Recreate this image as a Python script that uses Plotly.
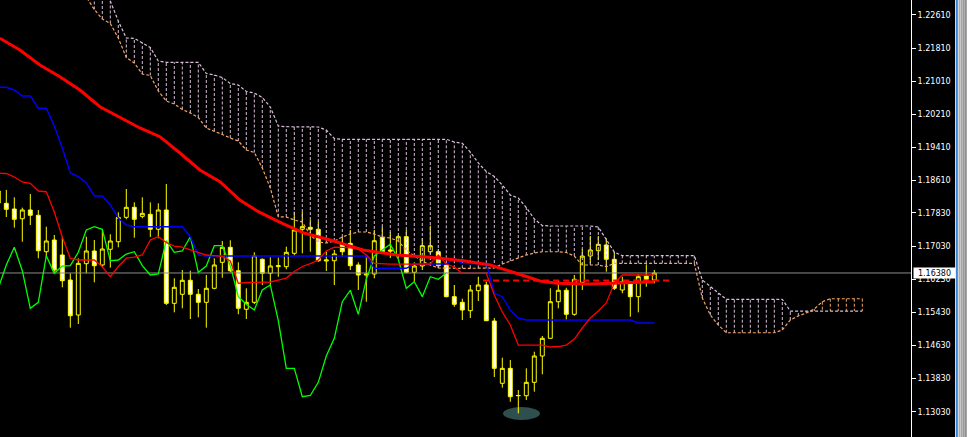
import plotly.graph_objects as go

# ---------------- axis ticks ----------------
tick_vals = [1.22610, 1.21810, 1.21010, 1.20210, 1.19410, 1.18610, 1.17830,
             1.17030, 1.16230, 1.15430, 1.14630, 1.13830, 1.13030]
tick_text = ["1.22610", "1.21810", "1.21010", "1.20210", "1.19410", "1.18610", "1.17830",
             "1.17030", "1.16230", "1.15430", "1.14630", "1.13830", "1.13030"]
y_range = [1.12419, 1.22972]
x_range = [-0.7875, 113.0875]

# ---------------- candles ----------------
bar_index = list(range(-1, 82))
open_ = [1.18070, 1.18062, 1.17925, 1.17690, 1.17901, 1.17773, 1.16894, 1.17176, 1.16814, 1.16210,
         1.15365, 1.16604, 1.16911, 1.16573, 1.16952, 1.17135, 1.17724, 1.17966, 1.17748, 1.17797,
         1.17435, 1.17901, 1.15647, 1.15865, 1.16203, 1.15865, 1.15671, 1.16010, 1.16637, 1.17000,
         1.16435, 1.15503, 1.15671, 1.16710, 1.16372, 1.16532, 1.16532, 1.16855, 1.17435, 1.17483,
         1.17435, 1.16669, 1.16676, 1.17096, 1.17096, 1.16573, 1.16331, 1.16355, 1.17241, 1.16935,
         1.16814, 1.17256, 1.16396, 1.16549, 1.16894, 1.16894, 1.16573, 1.15808, 1.15671, 1.15469,
         1.15952, 1.16090, 1.15220, 1.13716, 1.14077, 1.13416, 1.13416, 1.13739, 1.14375, 1.14802,
         1.15686, 1.15962, 1.15382, 1.16154, 1.16790, 1.16918, 1.17056, 1.16710, 1.15969, 1.16169,
         1.15808, 1.16306, 1.16210]
high = [1.18432, 1.18384, 1.18207, 1.17957, 1.18287, 1.17901, 1.17498, 1.17297, 1.17256, 1.16372,
        1.16734, 1.17256, 1.17176, 1.17418, 1.17314, 1.17845, 1.18408, 1.18086, 1.18207, 1.18086,
        1.18062, 1.18528, 1.16251, 1.16452, 1.16435, 1.15993, 1.16331, 1.16734, 1.17152, 1.17169,
        1.16637, 1.16010, 1.16879, 1.16734, 1.16758, 1.16749, 1.17015, 1.17860, 1.17860, 1.17659,
        1.17618, 1.16900, 1.16935, 1.17256, 1.17418, 1.16637, 1.16773, 1.17418, 1.17498, 1.17369,
        1.17297, 1.17418, 1.16637, 1.17217, 1.17522, 1.16959, 1.16573, 1.16090, 1.15760, 1.16090,
        1.16290, 1.16169, 1.15292, 1.14334, 1.14278, 1.13554, 1.14078, 1.14479, 1.14858, 1.16010,
        1.16210, 1.16024, 1.16331, 1.16959, 1.17273, 1.17273, 1.17217, 1.16894, 1.16290, 1.16169,
        1.16348, 1.16589, 1.16452]
low = [1.17997, 1.17732, 1.17474, 1.17135, 1.17538, 1.16734, 1.16773, 1.16411, 1.16034, 1.15059,
       1.15147, 1.16372, 1.16154, 1.16517, 1.16508, 1.17000, 1.17676, 1.17232, 1.17700, 1.17249,
       1.17217, 1.15606, 1.15430, 1.15527, 1.15268, 1.15309, 1.15059, 1.15986, 1.16266, 1.16396,
       1.15382, 1.15268, 1.15630, 1.16090, 1.16090, 1.16290, 1.16469, 1.16797, 1.16855, 1.16894,
       1.16652, 1.16428, 1.16090, 1.16773, 1.16452, 1.15969, 1.15686, 1.16251, 1.16855, 1.16742,
       1.16734, 1.16372, 1.16169, 1.16452, 1.16838, 1.16500, 1.15792, 1.15565, 1.15244, 1.15292,
       1.15703, 1.15227, 1.13868, 1.13610, 1.13271, 1.12991, 1.13312, 1.13513, 1.13933, 1.14802,
       1.15527, 1.15237, 1.15348, 1.15969, 1.16613, 1.16693, 1.16411, 1.15969, 1.15889, 1.15324,
       1.15430, 1.16048, 1.16130]
close = [1.18360, 1.17917, 1.17676, 1.17901, 1.17773, 1.16918, 1.17152, 1.16452, 1.16193, 1.15348,
         1.16613, 1.16911, 1.16556, 1.16959, 1.17152, 1.17724, 1.17966, 1.17676, 1.17820, 1.17435,
         1.17901, 1.15647, 1.16034, 1.16203, 1.15865, 1.15671, 1.16010, 1.16573, 1.17000, 1.16435,
         1.15527, 1.15671, 1.16797, 1.16372, 1.16549, 1.16556, 1.16879, 1.17418, 1.17498, 1.17435,
         1.16676, 1.16693, 1.16838, 1.16894, 1.16556, 1.16331, 1.16355, 1.17159, 1.16879, 1.16911,
         1.17256, 1.16396, 1.16549, 1.17039, 1.17039, 1.16556, 1.15808, 1.15623, 1.15486, 1.15969,
         1.16090, 1.15227, 1.14077, 1.14077, 1.13392, 1.13421, 1.13739, 1.14375, 1.14802, 1.15686,
         1.15962, 1.15382, 1.16227, 1.16790, 1.16935, 1.17072, 1.16710, 1.16010, 1.16169, 1.15808,
         1.16290, 1.16227, 1.16380]

# ---------------- moving average (thick red) ----------------
ma_index = [-0.8, 1.7, 4.2, 6.7, 9.2, 11.7, 16.7, 19.2, 21.7, 24.2, 26.7, 29.2, 31.5, 34.5,
            37.3, 40.5, 44.6, 48.8, 53.0, 57.1, 60.5, 62.6, 65.1, 66.7, 68.8, 73.0, 77.1, 81.0]
ma_value = [1.22047, 1.21765, 1.21402, 1.21120, 1.20799, 1.20395, 1.19881, 1.19671, 1.19277,
            1.18867, 1.18584, 1.18142, 1.17860, 1.17579, 1.17338, 1.17176, 1.16935, 1.16814,
            1.16758, 1.16676, 1.16573, 1.16452, 1.16290, 1.16186, 1.16130, 1.16113, 1.16145, 1.16169]

# ---------------- Ichimoku ----------------
tenkan = [1.18787, 1.18782, 1.18697, 1.18577, 1.18545, 1.18359, 1.18342, 1.17852, 1.17248, 1.16734,
          1.16693, 1.16693, 1.16693, 1.16531, 1.16290, 1.16536, 1.16736, 1.16765, 1.16814, 1.17176,
          1.17256, 1.17116, 1.17031, 1.17002, 1.16935, 1.16862, 1.16814, 1.16797, 1.16782, 1.16669,
          1.16130, 1.16150, 1.16150, 1.16150, 1.16162, 1.16210, 1.16258, 1.16415, 1.16536, 1.16608,
          1.16693, 1.16910, 1.17002, 1.16997, 1.16988, 1.16959, 1.16814, 1.16613, 1.16596, 1.16596,
          1.16596, 1.16596, 1.16596, 1.16596, 1.16596, 1.16814, 1.16596, 1.16524, 1.16372, 1.16372,
          1.16372, 1.16372, 1.15848, 1.15437, 1.15123, 1.14640, 1.14640, 1.14640, 1.14640, 1.14592,
          1.14604, 1.14640, 1.14785, 1.15051, 1.15292, 1.15461, 1.15655, 1.16138, 1.16331, 1.16331,
          1.16331, 1.16331, 1.16331]
kijun = [1.20864, 1.20864, 1.20799, 1.20654, 1.20654, 1.20357, 1.20357, 1.19929, 1.19398, 1.18794,
         1.18705, 1.18553, 1.18239, 1.18239, 1.18022, 1.17707, 1.17538, 1.17497, 1.17497, 1.17497,
         1.17497, 1.17497, 1.17497, 1.17497, 1.17256, 1.16814, 1.16790, 1.16790, 1.16790, 1.16790,
         1.16790, 1.16790, 1.16790, 1.16790, 1.16790, 1.16790, 1.16790, 1.16790, 1.16790, 1.16790,
         1.16790, 1.16790, 1.16790, 1.16790, 1.16790, 1.16790, 1.16790, 1.16493, 1.16493, 1.16493,
         1.16493, 1.16493, 1.16596, 1.16596, 1.16596, 1.16596, 1.16596, 1.16717, 1.16608, 1.16608,
         1.16608, 1.16608, 1.15896, 1.15807, 1.15486, 1.15292, 1.15244, 1.15244, 1.15244, 1.15244,
         1.15244, 1.15244, 1.15244, 1.15244, 1.15244, 1.15244, 1.15244, 1.15244, 1.15244, 1.15244,
         1.15172, 1.15172, 1.15172]
chikou_shift = 26

cloud_index = list(range(9, 108))
span_a = [1.23310, 1.23045, 1.22743, 1.22513, 1.22405, 1.22054, 1.21583, 1.21451, 1.21185, 1.21149,
          1.20774, 1.20533, 1.20460, 1.20328, 1.20243, 1.20134, 1.19881, 1.19808, 1.19724, 1.19639,
          1.19567, 1.19350, 1.19289, 1.18915, 1.18432, 1.17739, 1.17731, 1.17659, 1.17611, 1.17297,
          1.17128, 1.17104, 1.17152, 1.17248, 1.17321, 1.17369, 1.17369, 1.17321, 1.17248, 1.17224,
          1.17152, 1.16935, 1.16790, 1.16669, 1.16572, 1.16500, 1.16493, 1.16493, 1.16493, 1.16493,
          1.16493, 1.16493, 1.16500, 1.16596, 1.16669, 1.16741, 1.16814, 1.16862, 1.16893, 1.16893,
          1.16893, 1.16874, 1.16790, 1.16572, 1.16572, 1.16572, 1.16531, 1.16613, 1.16613, 1.16613,
          1.16613, 1.16613, 1.16613, 1.16613, 1.16613, 1.16613, 1.16613, 1.16613, 1.15775, 1.15365,
          1.15123, 1.14937, 1.14937, 1.14937, 1.14937, 1.14937, 1.14937, 1.14937, 1.15003, 1.15244,
          1.15341, 1.15413, 1.15510, 1.15686, 1.15758, 1.15758, 1.15758, 1.15758, 1.15758]
span_b = [1.24180, 1.23890, 1.23576, 1.23262, 1.22948, 1.22465, 1.22054, 1.22047, 1.21946, 1.21825,
          1.21499, 1.21468, 1.21468, 1.21468, 1.21468, 1.21468, 1.21197, 1.21161, 1.21100, 1.20956,
          1.20919, 1.20762, 1.20726, 1.20617, 1.20388, 1.19929, 1.19912, 1.19912, 1.19905, 1.19905,
          1.19905, 1.19832, 1.19627, 1.19608, 1.19608, 1.19608, 1.19608, 1.19608, 1.19608, 1.19608,
          1.19608, 1.19608, 1.19608, 1.19608, 1.19608, 1.19608, 1.19608, 1.19543, 1.19511, 1.19301,
          1.19036, 1.18830, 1.18710, 1.18504, 1.18263, 1.18190, 1.17961, 1.17683, 1.17526, 1.17514,
          1.17514, 1.17514, 1.17514, 1.17514, 1.17514, 1.17490, 1.17176, 1.16886, 1.16797, 1.16797,
          1.16797, 1.16797, 1.16797, 1.16797, 1.16797, 1.16797, 1.16797, 1.16797, 1.16210, 1.16048,
          1.15896, 1.15744, 1.15744, 1.15744, 1.15744, 1.15744, 1.15744, 1.15744, 1.15744, 1.15461,
          1.15461, 1.15461, 1.15461, 1.15461, 1.15461, 1.15461, 1.15461, 1.15461, 1.15461]

# ---------------- other objects ----------------
last_price = 1.16380
last_price_text = "1.16380"
level_price = 1.16200
level_span = [59.6, 83.0]
marker_x = [62.09, 66.71]
marker_y = [1.12829, 1.13143]

# ---------------- colours ----------------
C_BG = "#000000"
C_CANDLE = "#FFFF00"
C_MA = "#FF0000"
C_TENKAN = "#FF0000"
C_KIJUN = "#0000FF"
C_CHIKOU = "#00FF00"
C_SPAN_A = "#F4A460"
C_SPAN_B = "#D8BFD8"
C_PRICE = "#8C8C8C"

fig = go.Figure()

# current price line (behind everything)
fig.add_trace(go.Scatter(x=[x_range[0], x_range[1]], y=[last_price, last_price], mode="lines",
                         line=dict(color=C_PRICE, width=1), hoverinfo="skip"))

# cloud hatches
hb_x, hb_y, ha_x, ha_y = [], [], [], []
for i, a, b in zip(cloud_index, span_a, span_b):
    if b >= a:
        hb_x += [i, i, None]
        hb_y += [a, b, None]
    else:
        ha_x += [i, i, None]
        ha_y += [a, b, None]
fig.add_trace(go.Scatter(x=hb_x, y=hb_y, mode="lines", connectgaps=False,
                         line=dict(color=C_SPAN_B, width=1, dash="3px,2px"), hoverinfo="skip"))
fig.add_trace(go.Scatter(x=ha_x, y=ha_y, mode="lines", connectgaps=False,
                         line=dict(color=C_SPAN_A, width=1, dash="3px,2px"), hoverinfo="skip"))
fig.add_trace(go.Scatter(x=cloud_index, y=span_a, mode="lines",
                         line=dict(color=C_SPAN_A, width=1.2, dash="3px,2px"), hoverinfo="skip"))
fig.add_trace(go.Scatter(x=cloud_index, y=span_b, mode="lines",
                         line=dict(color=C_SPAN_B, width=1.2, dash="3px,2px"), hoverinfo="skip"))

# candles
fig.add_trace(go.Candlestick(
    x=bar_index, open=open_, high=high, low=low, close=close,
    increasing=dict(line=dict(color=C_CANDLE, width=1), fillcolor=C_BG),
    decreasing=dict(line=dict(color=C_CANDLE, width=1), fillcolor="#FFFFFF"),
    whiskerwidth=0, hoverinfo="skip"))

# chikou span: close shifted back
ch_x = [b - chikou_shift for b in bar_index if b - chikou_shift >= -1]
ch_y = [c for b, c in zip(bar_index, close) if b - chikou_shift >= -1]
fig.add_trace(go.Scatter(x=ch_x, y=ch_y, mode="lines", line=dict(color=C_CHIKOU, width=1.3),
                         hoverinfo="skip"))
fig.add_trace(go.Scatter(x=bar_index, y=kijun, mode="lines", line=dict(color=C_KIJUN, width=1.4),
                         hoverinfo="skip"))
fig.add_trace(go.Scatter(x=bar_index, y=tenkan, mode="lines", line=dict(color=C_TENKAN, width=1.3),
                         hoverinfo="skip"))
fig.add_trace(go.Scatter(x=level_span, y=[level_price, level_price], mode="lines",
                         line=dict(color=C_MA, width=2, dash="6px,4px"), hoverinfo="skip"))
fig.add_trace(go.Scatter(x=ma_index, y=ma_value, mode="lines", line=dict(color=C_MA, width=3),
                         hoverinfo="skip"))

W, H = 967, 437
PLOT_W = 911
shapes = [
    dict(type="circle", xref="x", yref="y", x0=marker_x[0], x1=marker_x[1],
         y0=marker_y[0], y1=marker_y[1], fillcolor="#2F4F4F", line=dict(width=0), layer="below"),
    dict(type="rect", xref="paper", yref="paper", x0=955 / PLOT_W, x1=956 / PLOT_W, y0=0, y1=1,
         fillcolor="#d8d8d8", line=dict(width=0)),
    dict(type="rect", xref="paper", yref="paper", x0=956 / PLOT_W, x1=957.5 / PLOT_W, y0=0, y1=1,
         fillcolor="#3a86d8", line=dict(width=0)),
]
grays = ["#d4d4d4", "#c8c8c8", "#bcbcbc", "#b0b0b0", "#a6a6a6"]
for k, g in enumerate(grays):
    x0 = 957.5 + k * 2
    shapes.append(dict(type="rect", xref="paper", yref="paper", x0=x0 / PLOT_W,
                       x1=(x0 + 2.2) / PLOT_W, y0=0, y1=1, fillcolor=g, line=dict(width=0)))

fig.update_layout(
    width=W, height=H,
    margin=dict(l=0, r=W - PLOT_W, t=0, b=0),
    paper_bgcolor=C_BG, plot_bgcolor=C_BG,
    showlegend=False,
    xaxis=dict(range=x_range, visible=False, rangeslider=dict(visible=False), fixedrange=True),
    yaxis=dict(side="right", range=y_range, tickvals=tick_vals, ticktext=tick_text,
               ticks="outside", ticklen=4, tickcolor="#FFFFFF", tickwidth=1,
               showline=True, linecolor="#FFFFFF", linewidth=1, showgrid=False, zeroline=False,
               tickfont=dict(family="DejaVu Sans", size=8, color="#FFFFFF"), fixedrange=True),
    shapes=shapes,
    annotations=[dict(xref="paper", yref="y", x=1, y=last_price, xanchor="left", yanchor="middle",
                      xshift=2, text=last_price_text, showarrow=False, bgcolor="#FFFFFF",
                      width=41, height=10, borderpad=0, align="center",
                      font=dict(family="DejaVu Sans", size=8, color="#000000"))],
)

fig.write_html("out.html", config={"displayModeBar": False},
               post_script="document.body.style.margin='0';document.body.style.overflow='hidden';")
